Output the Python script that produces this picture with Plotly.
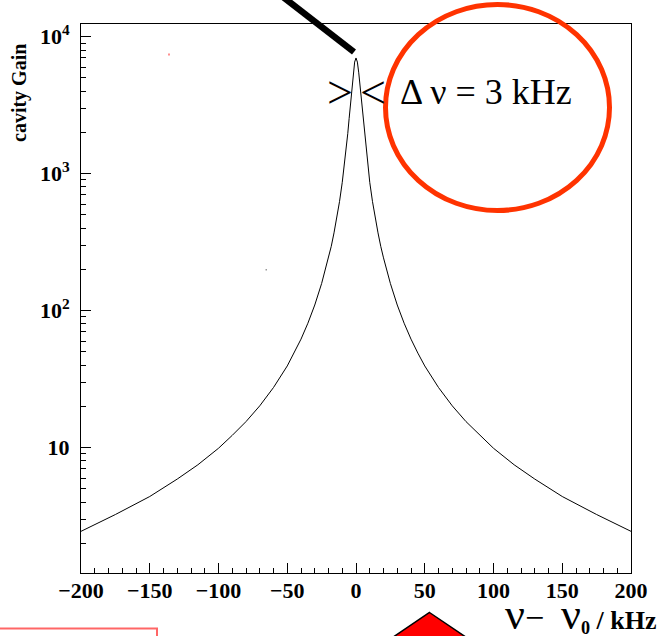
import plotly.graph_objects as go

# ---- data ----
detuning_khz = [-200, -175, -150, -130, -115, -100, -90, -80, -70, -60, -50, -45, -40, -35, -30,
                -25, -20, -18, -16, -14, -12, -10, -8, -7, -6, -5, -4, -3, -2, -1, 0,
                1, 2, 3, 4, 5, 6, 7, 8, 10, 12, 14, 16, 18, 20, 25,
                30, 35, 40, 45, 50, 60, 70, 80, 90, 100, 115, 130, 150, 175, 200]
cavity_gain = [2.45, 3.25, 4.4, 5.9, 7.5, 9.9, 12.3, 15.5, 20.2, 27.5, 39.5, 49, 62, 81, 110,
               158, 243, 295, 370, 470, 625, 865, 1270, 1560, 1960, 2530, 3300, 4300, 5450, 6530, 7000,
               6530, 5450, 4300, 3300, 2530, 1960, 1560, 1270, 865, 625, 470, 370, 295, 243, 158,
               110, 81, 62, 49, 39.5, 27.5, 20.2, 15.5, 12.3, 9.9, 7.5, 5.9, 4.4, 3.25, 2.45]

x_major_ticks = [-200, -150, -100, -50, 0, 50, 100, 150, 200]
x_tick_text = ["\u2212200", "\u2212150", "\u2212100", "\u221250", "0", "50", "100", "150", "200"]
y_major_ticks = [10, 100, 1000, 10000]
y_tick_text = ["10", "10<sup>2</sup>", "10<sup>3</sup>", "10<sup>4</sup>"]
y_minor_ticks = [m * 10 ** k for k in range(0, 4) for m in range(2, 10)]

W, H = 664, 636
L, R, T, B = 81, 631, 24, 573


def px(x):
    return (x - L) / (R - L)


def py(y):
    return (B - y) / (B - T)


SERIF = "Liberation Serif"

fig = go.Figure()
fig.add_trace(go.Scatter(x=detuning_khz, y=cavity_gain, mode="lines",
                         line=dict(color="black", width=1), hoverinfo="skip"))

fig.update_layout(
    width=W, height=H,
    margin=dict(l=L, r=W - R, t=T, b=H - B, pad=0),
    paper_bgcolor="white", plot_bgcolor="white",
    showlegend=False,
    font=dict(family=SERIF, color="black"),
)

fig.update_xaxes(
    range=[-200, 200], showgrid=False, zeroline=False,
    showline=True, linecolor="black", linewidth=1, mirror=True,
    tickmode="array", tickvals=x_major_ticks, ticktext=x_tick_text,
    ticks="inside", ticklen=10, tickcolor="black", tickwidth=1,
    tickfont=dict(family=SERIF, size=22, weight="bold"),
    ticklabelstandoff=-2,
    minor=dict(ticks="inside", ticklen=5, tickcolor="black", tickwidth=1, dtick=10, showgrid=False),
)
fig.update_yaxes(
    type="log", range=[0.085, 4.093], showgrid=False, zeroline=False,
    showline=True, linecolor="black", linewidth=1, mirror=True,
    tickmode="array", tickvals=y_major_ticks, ticktext=y_tick_text,
    ticks="inside", ticklen=10, tickcolor="black", tickwidth=1,
    tickfont=dict(family=SERIF, size=22, weight="bold"),
    ticklabelstandoff=6,
    minor=dict(ticks="inside", ticklen=5, tickcolor="black", tickwidth=1,
               tickmode="array", tickvals=y_minor_ticks, showgrid=False),
)

annotations = [
    dict(text="<b>cavity Gain</b>", x=px(19), y=py(93), textangle=-90,
         font=dict(family=SERIF, size=20)),
    dict(text="<span style='font-size:44px'>\u03bd</span><span style='font-size:34px'>\u2212\u00a0\u00a0</span>"
              "<span style='font-size:44px'>\u03bd</span><b><sub>0</sub> / kHz</b>",
         x=px(659), y=py(614), xanchor="right", font=dict(family=SERIF, size=26)),
    dict(text=">", x=px(339.5), y=py(92), font=dict(family=SERIF, size=46)),
    dict(text="<", x=px(373), y=py(92), font=dict(family=SERIF, size=46)),
    dict(text="\u0394 \u03bd = 3 kHz", x=px(398), y=py(92), xanchor="left",
         font=dict(family=SERIF, size=36)),
]
for a in annotations:
    a.setdefault("xanchor", "center")
    a.update(xref="paper", yref="paper", showarrow=False, yanchor="middle")
fig.update_layout(annotations=annotations)

shapes = [
    # thick black pointer
    dict(type="line", x0=px(274), y0=py(-10), x1=px(354), y1=py(52),
         line=dict(color="black", width=6.5)),
    # red ellipse
    dict(type="circle", x0=px(385.5), y0=py(4.5), x1=px(609.5), y1=py(210.5),
         line=dict(color="#ff3300", width=5)),
    # red triangle at bottom
    dict(type="path",
         path=f"M {px(429.5)},{py(612.5)} L {px(482)},{py(648)} L {px(377)},{py(648)} Z",
         fillcolor="#ff0000", line=dict(color="black", width=1.5)),
    # red box at bottom-left
    dict(type="rect", x0=px(-10), y0=py(628.5), x1=px(157), y1=py(660),
         line=dict(color="#ff6666", width=2)),
    # tiny stray marks
    dict(type="rect", x0=px(168), y0=py(53.5), x1=px(170), y1=py(55.5),
         fillcolor="#ff9090", line=dict(width=0)),
    dict(type="rect", x0=px(265.5), y0=py(269), x1=px(267), y1=py(270.5),
         fillcolor="#999999", line=dict(width=0)),
]
for s in shapes:
    s.update(xref="paper", yref="paper", layer="above")
fig.update_layout(shapes=shapes)

fig.write_html("out.html")
